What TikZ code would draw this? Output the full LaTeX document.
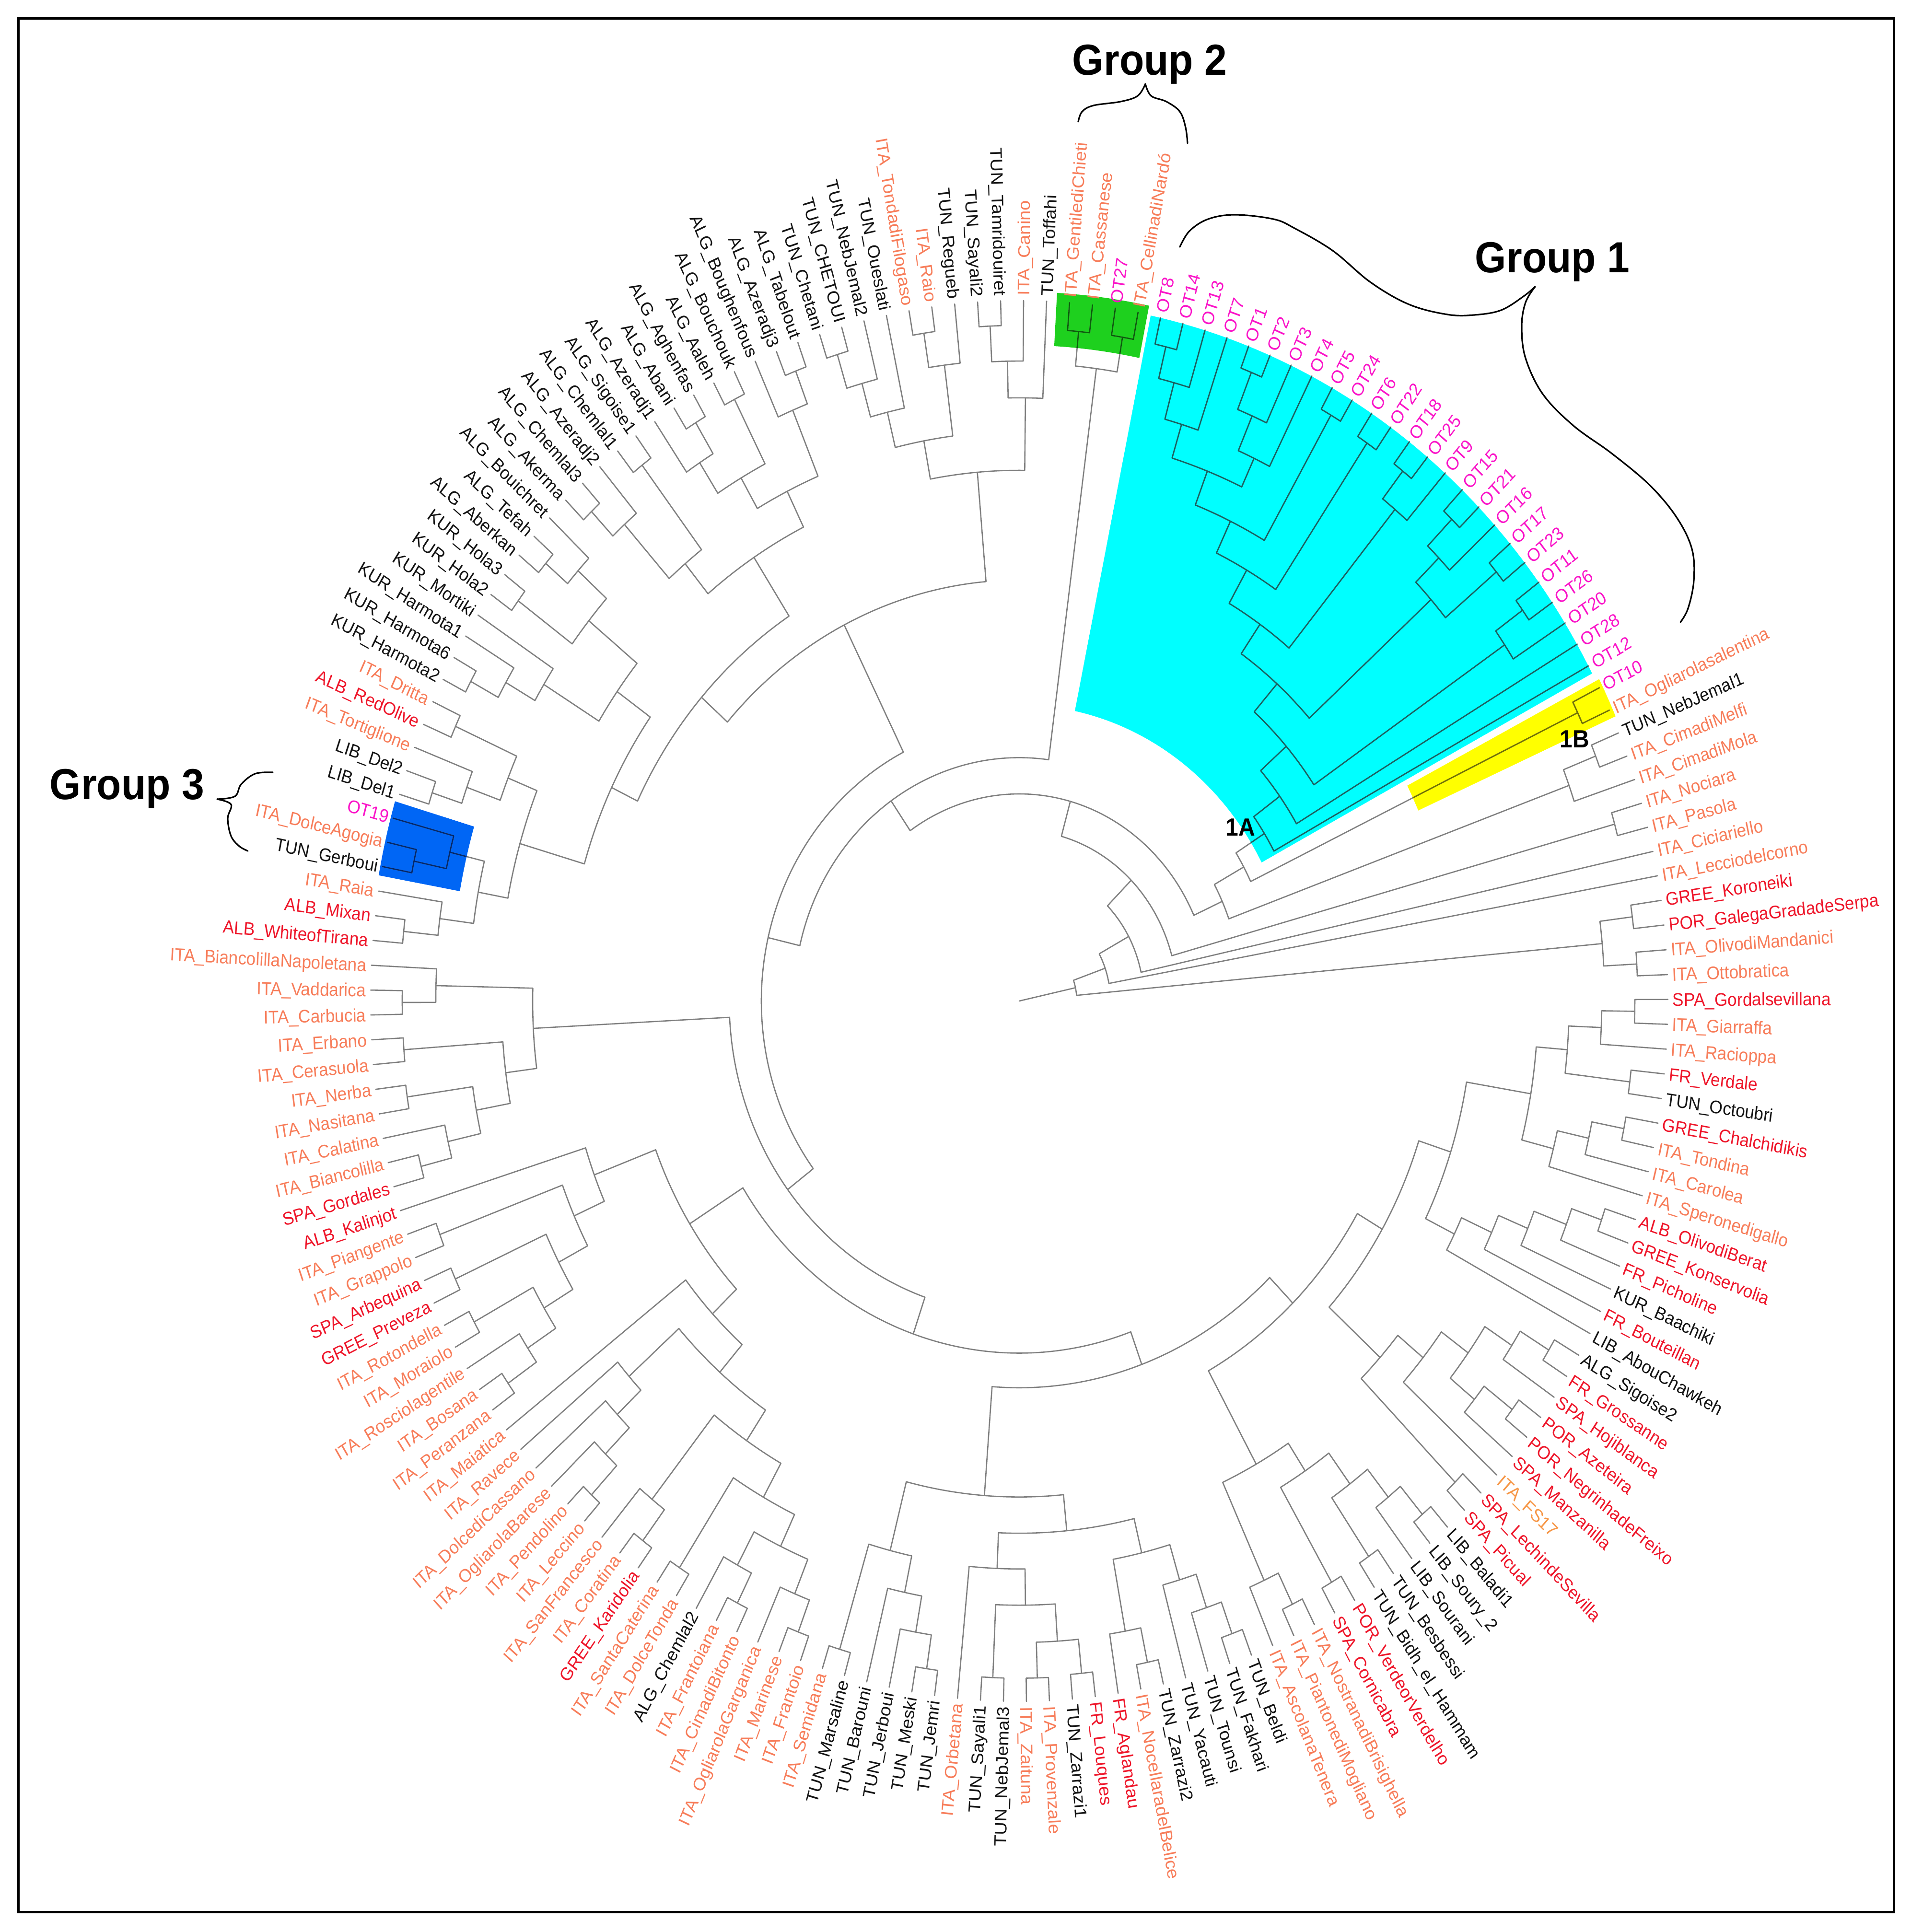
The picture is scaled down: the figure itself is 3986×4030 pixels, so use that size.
\documentclass[tikz,border=0pt]{standalone}
\usepackage{fontspec}
\setmainfont{Liberation Sans}
\definecolor{cit}{RGB}{247,125,90}
\definecolor{crd}{RGB}{238,22,42}
\definecolor{cot}{RGB}{250,20,200}
\definecolor{cfs}{RGB}{246,150,70}
\definecolor{ck}{RGB}{20,20,20}
\definecolor{lgray}{RGB}{128,128,128}
\definecolor{hcyan}{RGB}{0,255,255}
\definecolor{hgreen}{RGB}{30,208,30}
\definecolor{hyellow}{RGB}{255,255,0}
\definecolor{hblue}{RGB}{0,102,245}
\definecolor{dcyan}{RGB}{20,100,100}
\definecolor{dgreen}{RGB}{10,95,10}
\definecolor{dyellow}{RGB}{115,115,0}
\definecolor{dblue}{RGB}{0,40,110}
\tikzset{
  branch/.style={draw=lgray,line width=0.65pt,line join=round,line cap=round},
  leaflab/.style={font=\fontsize{8.8pt}{10pt}\selectfont,inner sep=0pt,outer sep=0pt,transform shape,text height=6.3pt,text depth=0pt},
  grp/.style={font=\fontsize{21pt}{24pt}\selectfont\bfseries,inner sep=0pt,yscale=1.08},
  sublab/.style={font=\fontsize{12pt}{14pt}\selectfont\bfseries,inner sep=0pt,yscale=1.08},
  bracestyle/.style={draw=black,line width=0.8pt,line cap=round,line join=round}
}
% leaf: index, colour, text
\newcommand\lfx[3]{%
  \pgfmathsetmacro\lfa{85.55-(#1-1)*2.0339-ifthenelse(#1<43,360,0)}%
  \expandafter\xdef\csname ang@L#1\endcsname{\lfa}%
  \expandafter\xdef\csname rad@L#1\endcsname{1353}%
  \coordinate (L#1) at (\lfa:338.25pt);%
  \pgfmathsetmacro\lfc{cos(\lfa)}%
  \ifdim\lfc pt>0pt
    \node[leaflab,text=#2,anchor=west,rotate=\lfa] at (\lfa:340.75pt) {#3};%
  \else
    \pgfmathsetmacro\lfb{\lfa+180}%
    \node[leaflab,text=#2,anchor=east,rotate=\lfb] at (\lfa:340.75pt) {#3};%
  \fi}
% clade: name, radius, child A, child B
\newcommand\clx[4]{%
  \edef\cxA{\csname ang@#3\endcsname}%
  \edef\cxB{\csname ang@#4\endcsname}%
  \edef\rxA{\csname rad@#3\endcsname}%
  \edef\rxB{\csname rad@#4\endcsname}%
  \pgfmathsetmacro\rxN{#2*0.25}%
  \pgfmathsetmacro\rxAp{\rxA*0.25}%
  \pgfmathsetmacro\rxBp{\rxB*0.25}%
  \pgfmathsetmacro\axM{(\cxA+\cxB)/2}%
  \draw[branch] (\cxA:\rxAp pt) -- (\cxA:\rxN pt) arc[start angle=\cxA,end angle=\cxB,radius=\rxN pt] -- (\cxB:\rxBp pt);%
  \expandafter\xdef\csname ang@#1\endcsname{\axM}%
  \expandafter\xdef\csname rad@#1\endcsname{#2}%
  \coordinate (#1) at (\axM:\rxN pt);}
\newcommand\treebody{%
\clx{gpa}{1299}{L1}{L2}\clx{gpb}{1300}{L3}{L4}\clx{grp2}{1232}{gpa}{gpb}%
\clx{o1}{1300}{L5}{L6}\clx{o2}{1237}{o1}{L7}\clx{o3}{1164}{o2}{L8}%
\clx{o4}{1307}{L9}{L10}\clx{o5}{1230}{o4}{L11}\clx{o6}{1157}{o5}{L12}%
\clx{o7}{1096}{o3}{o6}\clx{o8}{1305}{L13}{L14}\clx{o9}{1026}{o7}{o8}%
\clx{o10}{1299}{L15}{L16}\clx{o11}{958}{o9}{o10}%
\clx{o12}{1299}{L17}{L18}\clx{o13}{1231}{L19}{o12}\clx{o14}{884}{o13}{o11}%
\clx{o15}{1296}{L20}{L21}\clx{o16}{1224}{L22}{o15}\clx{o17}{1295}{L23}{L24}%
\clx{o18}{1157}{o17}{o16}\clx{o19}{815}{o18}{o14}%
\clx{o20}{1293}{L25}{L26}\clx{o21}{1224}{L27}{o20}\clx{o22}{743}{o21}{o19}%
\clx{o23}{672}{L28}{o22}\clx{oA}{605}{L29}{o23}%
\clx{oB}{1291}{L30}{L31}\clx{nA6}{535}{oA}{oB}%
\clx{xa}{1292}{L32}{L33}\clx{xb}{1220}{xa}{L34}\clx{nA5}{465}{nA6}{xb}%
\clx{np}{1288}{L35}{L36}%
\clx{ka}{1289}{L39}{L40}\clx{kb}{1290}{L41}{L42}\clx{kk}{1221}{ka}{kb}%
\clx{q0}{1284}{L43}{L44}\clx{q1}{1215}{q0}{L45}\clx{q2}{1283}{L46}{L47}%
\clx{q3}{1147}{q1}{q2}\clx{q4}{1285}{L48}{L49}\clx{q5}{1217}{q4}{L50}%
\clx{q6}{1150}{q5}{L51}\clx{q7}{1082}{q3}{q6}%
\clx{ra}{1286}{L52}{L53}\clx{rb}{1220}{ra}{L54}\clx{rc}{1148}{rb}{L55}%
\clx{rd}{1082}{rc}{L56}\clx{re}{1013}{rd}{L57}\clx{q8}{946}{q7}{re}%
\clx{sa}{1294}{L58}{L59}\clx{sb}{1224}{sa}{L60}\clx{sc}{1296}{L61}{L62}%
\clx{sd}{1222}{sc}{L63}\clx{se}{1157}{sb}{sd}\clx{sf}{1088}{se}{L64}%
\clx{sg}{1300}{L65}{L66}\clx{sh}{1020}{sf}{sg}\clx{si}{876}{q8}{sh}%
\clx{ua}{1300}{L67}{L68}\clx{ub}{1229}{ua}{L69}\clx{uc}{1297}{L70}{L71}%
\clx{ud}{1160}{ub}{uc}\clx{ue}{1298}{L72}{L73}\clx{uf}{1086}{ud}{ue}%
\clx{ug}{1297}{L74}{L75}\clx{uh}{1230}{ug}{L76}\clx{ui}{1022}{uf}{uh}%
\clx{nI}{816}{si}{ui}%
\clx{t1}{1307}{L95}{L96}\clx{t2}{1304}{L91}{L92}\clx{t3}{1238}{L93}{t2}%
\clx{t4}{1167}{L94}{t3}\clx{t5}{1095}{t1}{t4}%
\clx{t6}{1308}{L88}{L89}\clx{t7}{1308}{L86}{L87}\clx{t8}{1305}{L84}{L85}%
\clx{t9}{1239}{t7}{t8}\clx{t10}{1167}{t6}{t9}\clx{t11}{1097}{L90}{t10}%
\clx{t12}{1305}{L81}{L82}\clx{t13}{1237}{L83}{t12}%
\clx{t14}{1300}{L77}{L78}\clx{t15}{1235}{L79}{t14}\clx{t16}{1167}{L80}{t15}%
\clx{t17}{1096}{t13}{t16}\clx{t18}{1028}{t11}{t17}\clx{nT}{958}{t5}{t18}%
\clx{nG}{747}{nT}{nI}%
\clx{fa}{1290}{L121}{L122}\clx{fb}{1293}{L119}{L120}\clx{fc}{1295}{L117}{L118}%
\clx{fd}{1297}{L114}{L115}\clx{fe}{1225}{L116}{fd}\clx{ff}{1155}{fc}{fe}%
\clx{fg}{1085}{fb}{ff}\clx{fh}{1017}{fa}{fg}\clx{fi}{948}{L123}{fh}%
\clx{fj}{1306}{L108}{L109}\clx{fk}{1229}{L110}{fj}\clx{fl}{1158}{L111}{fk}%
\clx{fm}{1090}{L112}{fl}\clx{fn}{1305}{L105}{L106}\clx{fo}{1230}{L107}{fn}%
\clx{fp}{1304}{L103}{L104}\clx{fq}{1303}{L100}{L101}\clx{fr}{1238}{L102}{fq}%
\clx{fs}{1303}{L97}{L98}\clx{ft}{1237}{L99}{fs}\clx{fu}{1165}{fr}{ft}%
\clx{fv}{1097}{fp}{fu}\clx{fw}{1022}{fo}{fv}\clx{fx}{951}{fm}{fw}%
\clx{fy}{880}{L113}{fx}\clx{nF}{811}{fi}{fy}\clx{nE}{680}{nF}{nG}%
\clx{la}{1287}{L131}{L132}\clx{lb}{1217}{L133}{la}\clx{lc}{1287}{L129}{L130}%
\clx{ld}{1290}{L127}{L128}\clx{le}{1288}{L124}{L125}\clx{lf}{1222}{L126}{le}%
\clx{lg}{1152}{ld}{lf}\clx{lh}{1080}{lc}{lg}\clx{li}{1015}{lb}{lh}%
\clx{nD}{605}{li}{nE}%
\clx{ma}{1291}{L134}{L135}\clx{mb}{1219}{L136}{ma}\clx{mc}{1291}{L137}{L138}%
\clx{md}{1222}{L139}{mc}\clx{me}{1148}{md}{mb}\clx{mf}{1289}{L140}{L141}%
\clx{mg}{1224}{L142}{mf}\clx{mh}{1290}{L143}{L144}\clx{mi}{1150}{mh}{mg}%
\clx{mj}{1085}{mi}{me}%
\clx{ka1}{1300}{L145}{L146}\clx{ka2}{1235}{ka1}{L147}\clx{ka3}{1165}{ka2}{L148}%
\clx{kb1}{1300}{L149}{L150}\clx{kb2}{1300}{L151}{L152}\clx{kb3}{1240}{kb2}{L153}%
\clx{kb4}{1160}{kb1}{kb3}\clx{kc}{1030}{ka3}{kb4}\clx{mk}{945}{mj}{kc}%
\clx{aa}{1300}{L154}{L155}\clx{ab}{1235}{aa}{L156}\clx{ac}{1300}{L157}{L158}%
\clx{ad}{1095}{ab}{ac}\clx{ae}{1305}{L160}{L161}\clx{af}{1235}{L159}{ae}%
\clx{ag}{1305}{L162}{L163}\clx{ah}{1165}{af}{ag}\clx{ai}{1303}{L165}{L166}%
\clx{aj}{1235}{L164}{ai}\clx{ak}{1097}{ah}{aj}\clx{al}{1020}{ad}{ak}%
\clx{tx}{885}{al}{mk}%
\clx{ba}{1305}{L174}{L175}\clx{bb}{1236}{L176}{ba}\clx{bc}{1165}{L177}{bb}%
\clx{bd}{1305}{L171}{L172}\clx{be}{1238}{L173}{bd}\clx{bf}{1305}{L167}{L168}%
\clx{bg}{1237}{L169}{bf}\clx{bh}{1170}{L170}{bg}\clx{bi}{1100}{be}{bh}%
\clx{bj}{1025}{bc}{bi}\clx{nC}{813}{bj}{tx}\clx{nB}{538}{nC}{nD}%
\clx{nA}{470}{grp2}{nB}\clx{nA4}{400}{nA}{nA5}\clx{nA3}{330}{nA4}{np}%
\clx{nA2}{260}{nA3}{L37}\clx{nA1}{190}{nA2}{L38}\clx{nA0}{120}{nA1}{kk}%
\edef\rootA{\csname ang@nA0\endcsname}%
\draw[branch] (0pt,0pt) -- (\rootA:30pt);}
\begin{document}
\begin{tikzpicture}[x=0.25pt,y=0.25pt]
\path[use as bounding box] (-2126,-1942) rectangle (1860,2088);
\draw[line width=1.25pt] (-2087,2049) rectangle (1824,-1900);
\begin{scope}[yscale=1.08]
% highlights
\fill[hcyan] (27.9:143pt) arc[start angle=27.9,end angle=78.3,radius=143pt] -- (78.3:338pt) arc[start angle=78.3,end angle=27.9,radius=338pt] -- cycle;
\fill[hgreen] (78.6:316.75pt) arc[start angle=78.6,end angle=86.7,radius=316.75pt] -- (86.7:342.5pt) arc[start angle=86.7,end angle=78.6,radius=342.5pt] -- cycle;
\fill[hyellow] (23.85:227.5pt) arc[start angle=23.85,end angle=27.2,radius=227.5pt] -- (27.2:340pt) arc[start angle=27.2,end angle=23.85,radius=340pt] -- cycle;
\fill[hblue] (163.5:296.5pt) arc[start angle=163.5,end angle=169.7,radius=296.5pt] -- (169.7:339.5pt) arc[start angle=169.7,end angle=163.5,radius=339.5pt] -- cycle;
% leaves
\lfx{1}{cit}{ITA\_GentilediChieti}
\lfx{2}{cit}{ITA\_Cassanese}
\lfx{3}{cot}{OT27}
\lfx{4}{cit}{ITA\_CellinadiNardó}
\lfx{5}{cot}{OT8}
\lfx{6}{cot}{OT14}
\lfx{7}{cot}{OT13}
\lfx{8}{cot}{OT7}
\lfx{9}{cot}{OT1}
\lfx{10}{cot}{OT2}
\lfx{11}{cot}{OT3}
\lfx{12}{cot}{OT4}
\lfx{13}{cot}{OT5}
\lfx{14}{cot}{OT24}
\lfx{15}{cot}{OT6}
\lfx{16}{cot}{OT22}
\lfx{17}{cot}{OT18}
\lfx{18}{cot}{OT25}
\lfx{19}{cot}{OT9}
\lfx{20}{cot}{OT15}
\lfx{21}{cot}{OT21}
\lfx{22}{cot}{OT16}
\lfx{23}{cot}{OT17}
\lfx{24}{cot}{OT23}
\lfx{25}{cot}{OT11}
\lfx{26}{cot}{OT26}
\lfx{27}{cot}{OT20}
\lfx{28}{cot}{OT28}
\lfx{29}{cot}{OT12}
\lfx{30}{cot}{OT10}
\lfx{31}{cit}{ITA\_Ogliarolasalentina}
\lfx{32}{ck}{TUN\_NebJemal1}
\lfx{33}{cit}{ITA\_CimadiMelfi}
\lfx{34}{cit}{ITA\_CimadiMola}
\lfx{35}{cit}{ITA\_Nociara}
\lfx{36}{cit}{ITA\_Pasola}
\lfx{37}{cit}{ITA\_Ciciariello}
\lfx{38}{cit}{ITA\_Lecciodelcorno}
\lfx{39}{crd}{GREE\_Koroneiki}
\lfx{40}{crd}{POR\_GalegaGradadeSerpa}
\lfx{41}{cit}{ITA\_OlivodiMandanici}
\lfx{42}{cit}{ITA\_Ottobratica}
\lfx{43}{crd}{SPA\_Gordalsevillana}
\lfx{44}{cit}{ITA\_Giarraffa}
\lfx{45}{cit}{ITA\_Racioppa}
\lfx{46}{crd}{FR\_Verdale}
\lfx{47}{ck}{TUN\_Octoubri}
\lfx{48}{crd}{GREE\_Chalchidikis}
\lfx{49}{cit}{ITA\_Tondina}
\lfx{50}{cit}{ITA\_Carolea}
\lfx{51}{cit}{ITA\_Speronedigallo}
\lfx{52}{crd}{ALB\_OlivodiBerat}
\lfx{53}{crd}{GREE\_Konservolia}
\lfx{54}{crd}{FR\_Picholine}
\lfx{55}{ck}{KUR\_Baachiki}
\lfx{56}{crd}{FR\_Bouteillan}
\lfx{57}{ck}{LIB\_AbouChawkeh}
\lfx{58}{ck}{ALG\_Sigoise2}
\lfx{59}{crd}{FR\_Grossanne}
\lfx{60}{crd}{SPA\_Hojiblanca}
\lfx{61}{crd}{POR\_Azeteira}
\lfx{62}{crd}{POR\_NegrinhadeFreixo}
\lfx{63}{crd}{SPA\_Manzanilla}
\lfx{64}{cfs}{ITA\_FS17}
\lfx{65}{crd}{SPA\_LechindeSevilla}
\lfx{66}{crd}{SPA\_Picual}
\lfx{67}{ck}{LIB\_Baladi1}
\lfx{68}{ck}{LIB\_Soury\_2}
\lfx{69}{ck}{LIB\_Sourani}
\lfx{70}{ck}{TUN\_Besbessi}
\lfx{71}{ck}{TUN\_Bidh\_el\_Hammam}
\lfx{72}{crd}{POR\_VerdeorVerdelho}
\lfx{73}{crd}{SPA\_Cornicabra}
\lfx{74}{cit}{ITA\_NostranadiBrisighella}
\lfx{75}{cit}{ITA\_PiantonediMogliano}
\lfx{76}{cit}{ITA\_AscolanaTenera}
\lfx{77}{ck}{TUN\_Beldi}
\lfx{78}{ck}{TUN\_Fakhari}
\lfx{79}{ck}{TUN\_Tounsi}
\lfx{80}{ck}{TUN\_Yacauti}
\lfx{81}{ck}{TUN\_Zarrazi2}
\lfx{82}{cit}{ITA\_NocellaradelBelice}
\lfx{83}{crd}{FR\_Aglandau}
\lfx{84}{crd}{FR\_Louques}
\lfx{85}{ck}{TUN\_Zarrazi1}
\lfx{86}{cit}{ITA\_Provenzale}
\lfx{87}{cit}{ITA\_Zaituna}
\lfx{88}{ck}{TUN\_NebJemal3}
\lfx{89}{ck}{TUN\_Sayali1}
\lfx{90}{cit}{ITA\_Orbetana}
\lfx{91}{ck}{TUN\_Jemri}
\lfx{92}{ck}{TUN\_Meski}
\lfx{93}{ck}{TUN\_Jerboui}
\lfx{94}{ck}{TUN\_Barouni}
\lfx{95}{ck}{TUN\_Marsaline}
\lfx{96}{cit}{ITA\_Semidana}
\lfx{97}{cit}{ITA\_Frantoio}
\lfx{98}{cit}{ITA\_Marinese}
\lfx{99}{cit}{ITA\_OgliarolaGarganica}
\lfx{100}{cit}{ITA\_CimadiBitonto}
\lfx{101}{cit}{ITA\_Frantoiana}
\lfx{102}{ck}{ALG\_Chemlal2}
\lfx{103}{cit}{ITA\_DolceTonda}
\lfx{104}{cit}{ITA\_SantaCaterina}
\lfx{105}{crd}{GREE\_Karidolia}
\lfx{106}{cit}{ITA\_Coratina}
\lfx{107}{cit}{ITA\_SanFrancesco}
\lfx{108}{cit}{ITA\_Leccino}
\lfx{109}{cit}{ITA\_Pendolino}
\lfx{110}{cit}{ITA\_OgliarolaBarese}
\lfx{111}{cit}{ITA\_DolcediCassano}
\lfx{112}{cit}{ITA\_Ravece}
\lfx{113}{cit}{ITA\_Maiatica}
\lfx{114}{cit}{ITA\_Peranzana}
\lfx{115}{cit}{ITA\_Bosana}
\lfx{116}{cit}{ITA\_Rosciolagentile}
\lfx{117}{cit}{ITA\_Moraiolo}
\lfx{118}{cit}{ITA\_Rotondella}
\lfx{119}{crd}{GREE\_Preveza}
\lfx{120}{crd}{SPA\_Arbequina}
\lfx{121}{cit}{ITA\_Grappolo}
\lfx{122}{cit}{ITA\_Piangente}
\lfx{123}{crd}{ALB\_Kalinjot}
\lfx{124}{crd}{SPA\_Gordales}
\lfx{125}{cit}{ITA\_Biancolilla}
\lfx{126}{cit}{ITA\_Calatina}
\lfx{127}{cit}{ITA\_Nasitana}
\lfx{128}{cit}{ITA\_Nerba}
\lfx{129}{cit}{ITA\_Cerasuola}
\lfx{130}{cit}{ITA\_Erbano}
\lfx{131}{cit}{ITA\_Carbucia}
\lfx{132}{cit}{ITA\_Vaddarica}
\lfx{133}{cit}{ITA\_BiancolillaNapoletana}
\lfx{134}{crd}{ALB\_WhiteofTirana}
\lfx{135}{crd}{ALB\_Mixan}
\lfx{136}{cit}{ITA\_Raia}
\lfx{137}{ck}{TUN\_Gerboui}
\lfx{138}{cit}{ITA\_DolceAgogia}
\lfx{139}{cot}{OT19}
\lfx{140}{ck}{LIB\_Del1}
\lfx{141}{ck}{LIB\_Del2}
\lfx{142}{cit}{ITA\_Tortiglione}
\lfx{143}{crd}{ALB\_RedOlive}
\lfx{144}{cit}{ITA\_Dritta}
\lfx{145}{ck}{KUR\_Harmota2}
\lfx{146}{ck}{KUR\_Harmota6}
\lfx{147}{ck}{KUR\_Harmota1}
\lfx{148}{ck}{KUR\_Mortiki}
\lfx{149}{ck}{KUR\_Hola2}
\lfx{150}{ck}{KUR\_Hola3}
\lfx{151}{ck}{ALG\_Aberkan}
\lfx{152}{ck}{ALG\_Tefah}
\lfx{153}{ck}{ALG\_Bouichret}
\lfx{154}{ck}{ALG\_Akerma}
\lfx{155}{ck}{ALG\_Chemlal3}
\lfx{156}{ck}{ALG\_Azeradj2}
\lfx{157}{ck}{ALG\_Chemlal1}
\lfx{158}{ck}{ALG\_Sigoise1}
\lfx{159}{ck}{ALG\_Azeradj1}
\lfx{160}{ck}{ALG\_Abani}
\lfx{161}{ck}{ALG\_Aghenfas}
\lfx{162}{ck}{ALG\_Aaleh}
\lfx{163}{ck}{ALG\_Bouchouk}
\lfx{164}{ck}{ALG\_Boughenfous}
\lfx{165}{ck}{ALG\_Azeradj3}
\lfx{166}{ck}{ALG\_Tabelout}
\lfx{167}{ck}{TUN\_Chetani}
\lfx{168}{ck}{TUN\_CHETOUI}
\lfx{169}{ck}{TUN\_NebJemal2}
\lfx{170}{ck}{TUN\_Oueslati}
\lfx{171}{cit}{ITA\_TondadiFilogaso}
\lfx{172}{cit}{ITA\_Raio}
\lfx{173}{ck}{TUN\_Regueb}
\lfx{174}{ck}{TUN\_Sayali2}
\lfx{175}{ck}{TUN\_Tamridouiret}
\lfx{176}{cit}{ITA\_Canino}
\lfx{177}{ck}{TUN\_Toffahi}
% tree
\treebody
\begin{scope}
\clip (27.9:143pt) arc[start angle=27.9,end angle=78.3,radius=143pt] -- (78.3:338pt) arc[start angle=78.3,end angle=27.9,radius=338pt] -- cycle;
\tikzset{branch/.style={draw=dcyan,line width=0.65pt,line join=round,line cap=round}}
\treebody
\end{scope}
\begin{scope}
\clip (78.6:316.75pt) arc[start angle=78.6,end angle=86.7,radius=316.75pt] -- (86.7:342.5pt) arc[start angle=86.7,end angle=78.6,radius=342.5pt] -- cycle;
\tikzset{branch/.style={draw=dgreen,line width=0.65pt,line join=round,line cap=round}}
\treebody
\end{scope}
\begin{scope}
\clip (23.85:227.5pt) arc[start angle=23.85,end angle=27.2,radius=227.5pt] -- (27.2:340pt) arc[start angle=27.2,end angle=23.85,radius=340pt] -- cycle;
\tikzset{branch/.style={draw=dyellow,line width=0.65pt,line join=round,line cap=round}}
\treebody
\end{scope}
\begin{scope}
\clip (163.5:296.5pt) arc[start angle=163.5,end angle=169.7,radius=296.5pt] -- (169.7:339.5pt) arc[start angle=169.7,end angle=163.5,radius=339.5pt] -- cycle;
\tikzset{branch/.style={draw=dblue,line width=0.65pt,line join=round,line cap=round}}
\treebody
\end{scope}
\end{scope}
% group labels and braces
\node[grp] (g1) at (1112,1542) {Group 1};
\node[grp] (g2) at (272,1954) {Group 2};
\node[grp] (g3) at (-1861,443) {Group 3};
\node[sublab] (s1a) at (461,362) {1A};
\node[sublab] (s1b) at (1158,546) {1B};
\draw[bracestyle] plot[smooth,tension=0.6] coordinates {(335,1573) (355,1606) (394,1631) (450,1640) (530,1631) (574,1612) (654,1565) (733,1499) (813,1453) (893,1432) (949,1431) (1005,1441) (1052,1470) (1076,1490)};
\draw[bracestyle] plot[smooth,tension=0.6] coordinates {(1076,1490) (1056,1457) (1048,1407) (1056,1341) (1092,1266) (1156,1200) (1236,1142) (1315,1076) (1371,1009) (1403,943) (1407,877) (1395,819) (1379,790)};
\draw[bracestyle] plot[smooth,tension=0.6] coordinates {(123,1834) (131,1855) (155,1868) (211,1876) (247,1888) (263,1913)};
\draw[bracestyle] plot[smooth,tension=0.6] coordinates {(263,1913) (275,1888) (307,1876) (335,1855) (347,1822) (351,1789)};
\draw[bracestyle] plot[smooth,tension=0.6] coordinates {(-1557,477) (-1594,474) (-1623,452) (-1636,427) (-1673,421)};
\draw[bracestyle] plot[smooth,tension=0.6] coordinates {(-1673,421) (-1644,410) (-1651,381) (-1644,344) (-1627,323) (-1609,313)};
\end{tikzpicture}
\end{document}
